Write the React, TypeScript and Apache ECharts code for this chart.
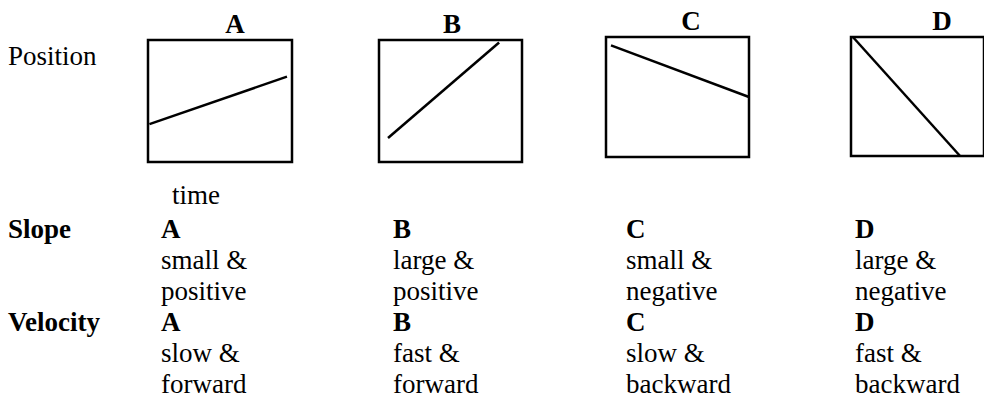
import React, { useEffect, useRef } from "react";
import * as echarts from "echarts";

// Panel data (time and position normalised to 0..1 inside each box)
const panels = ["A", "B", "C", "D"];
const startTime = [0.01, 0.063, 0.035, 0.014];
const startPos = [0.31, 0.197, 0.93, 1.0];
const endTime = [0.965, 0.84, 1.0, 0.82];
const endPos = [0.7, 0.98, 0.5, 0.0];

const slopeSize = ["small &", "large &", "small &", "large &"];
const slopeSign = ["positive", "positive", "negative", "negative"];
const velSpeed = ["slow &", "fast &", "slow &", "fast &"];
const velDir = ["forward", "forward", "backward", "backward"];

const rowLabels = ["Position", "time", "Slope", "Velocity"];

// layout
const gridBoxes = [
  { left: 148, top: 40, width: 144, height: 122 },
  { left: 379, top: 40, width: 143, height: 122 },
  { left: 606, top: 37, width: 143, height: 120 },
  { left: 851, top: 37, width: 143, height: 119 },
];
const titleX = [235, 452, 691, 942];
const titleBase = [33, 33, 30, 30];
const colX = [161, 393, 626, 855];
const FONT = "'Liberation Serif', 'Times New Roman', Times, serif";
const FS = 27;
const rowBase = { time: 204, slope: 238, small: 269, sign: 300, vel: 331, speed: 362, dir: 393 };

export default function App() {
  const ref = useRef<HTMLDivElement>(null);
  useEffect(() => {
    document.body.style.margin = "0";
    if (!ref.current) return;
    const chart = echarts.init(ref.current, undefined, { renderer: "svg" });
    const off = 0.3375 * FS;
    const txt = (text: string, x: number, base: number, bold = false, align = "left") => ({
      type: "text",
      style: {
        text,
        x,
        y: base - off,
        font: `${bold ? "bold " : ""}${FS}px ${FONT}`,
        fill: "#000",
        textAlign: align,
        textVerticalAlign: "middle",
      },
    });
    const graphics: any[] = [];
    graphics.push(txt(rowLabels[0], 8, 65));
    graphics.push(txt(rowLabels[1], 172, rowBase.time));
    graphics.push(txt(rowLabels[2], 8, rowBase.slope, true));
    graphics.push(txt(rowLabels[3], 8, rowBase.vel, true));
    panels.forEach((p, i) => {
      graphics.push(txt(p, titleX[i], titleBase[i], true, "center"));
      graphics.push(txt(p, colX[i], rowBase.slope, true));
      graphics.push(txt(slopeSize[i], colX[i], rowBase.small));
      graphics.push(txt(slopeSign[i], colX[i], rowBase.sign));
      graphics.push(txt(p, colX[i], rowBase.vel, true));
      graphics.push(txt(velSpeed[i], colX[i], rowBase.speed));
      graphics.push(txt(velDir[i], colX[i], rowBase.dir));
    });

    chart.setOption({
      animation: false,
      grid: gridBoxes.map((g) => ({
        ...g,
        show: true,
        borderColor: "#000",
        borderWidth: 2.5,
        backgroundColor: "transparent",
        containLabel: false,
      })),
      xAxis: panels.map((_, i) => ({
        type: "value",
        gridIndex: i,
        min: 0,
        max: 1,
        show: false,
        splitLine: { show: false },
      })),
      yAxis: panels.map((_, i) => ({
        type: "value",
        gridIndex: i,
        min: 0,
        max: 1,
        show: false,
        splitLine: { show: false },
      })),
      series: panels.map((p, i) => ({
        name: p,
        type: "line",
        xAxisIndex: i,
        yAxisIndex: i,
        symbol: "none",
        clip: false,
        lineStyle: { color: "#000", width: 2.5 },
        data: [
          [startTime[i], startPos[i]],
          [endTime[i], endPos[i]],
        ],
      })),
      graphic: graphics,
    });
    return () => chart.dispose();
  }, []);
  return <div ref={ref} style={{ width: 984, height: 398 }} />;
}
